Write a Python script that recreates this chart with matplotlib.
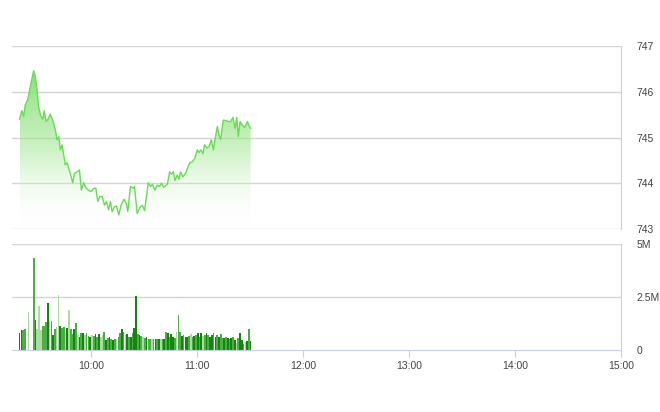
import numpy as np
import matplotlib.pyplot as plt
from matplotlib.colors import LinearSegmentedColormap

# minutes after 9:00
price_min = [19.3, 20.6, 21.6, 22.5, 23.9, 25.0, 26.3, 27.3, 28.2, 29.2, 30.1, 31.1, 32.4, 33.3,
             34.3, 35.4, 36.7, 38.1, 39.6, 40.5, 41.5, 42.4, 43.4, 44.3, 45.2, 46.2, 47.1, 48.5,
             49.4, 50.4, 51.9, 53.2, 54.3, 55.6, 57.0, 58.5, 59.8, 61.3, 62.5, 63.6, 64.7, 66.1,
             67.4, 68.5, 69.7, 70.8, 71.7, 73.1, 74.2, 75.5, 76.8, 78.4, 79.7, 80.6, 82.1, 83.5,
             84.4, 85.9, 87.4, 88.8, 90.1, 92.2, 93.5, 94.6, 95.9, 97.3, 98.6, 99.7, 101.0, 103.0,
             104.3, 105.4, 106.4, 107.3, 108.6, 109.6, 110.5, 111.8, 113.4, 114.7, 115.8, 117.1,
             118.5, 120.0, 120.9, 121.9, 123.2, 124.1, 125.3, 126.6, 127.9, 129.1, 130.0, 131.3,
             132.3, 133.2, 134.7, 136.1, 137.6, 138.9, 140.2, 141.4, 142.3, 143.2, 144.2, 145.5,
             146.8, 148.4, 149.3, 150.2]
price = [745.40, 745.59, 745.46, 745.71, 745.83, 746.04, 746.29, 746.46, 746.33, 746.04, 745.67,
         745.49, 745.40, 745.59, 745.35, 745.40, 745.51, 745.38, 745.16, 744.95, 745.02, 744.73,
         744.84, 744.62, 744.40, 744.45, 744.33, 744.14, 744.01, 744.22, 744.25, 744.29, 743.85,
         744.01, 743.89, 743.84, 743.82, 743.89, 743.89, 743.60, 743.71, 743.71, 743.52, 743.60,
         743.42, 743.60, 743.38, 743.49, 743.50, 743.31, 743.52, 743.65, 743.56, 743.38, 743.93,
         743.89, 743.93, 743.34, 743.47, 743.52, 743.40, 744.01, 743.93, 743.98, 743.85, 743.96,
         743.93, 744.00, 743.91, 743.98, 744.25, 744.20, 744.25, 744.06, 744.18, 744.09, 744.25,
         744.14, 744.22, 744.36, 744.45, 744.47, 744.54, 744.73, 744.67, 744.73, 744.65, 744.84,
         744.77, 744.80, 744.95, 744.73, 744.95, 745.24, 745.05, 744.96, 745.38, 745.37, 745.35,
         745.35, 745.44, 745.20, 745.44, 745.02, 745.35, 745.27, 745.22, 745.35, 745.25, 745.20]

vol_start = 19.3  # first volume bar, minutes after 9:00
volume = [0.79, 0.92, 0.95, 0.98, 0, 1.79, 0, 0, 4.35, 1.42, 0.98, 2.09, 0.92, 1.14, 1.11, 1.30,
          2.21, 1.34, 1.39, 0.71, 0.98, 1.08, 2.61, 1.14, 1.03, 1.08, 0.79, 1.03, 1.87, 0.98, 0.76,
          0.98, 1.27, 0.71, 0.63, 0.82, 0.82, 0.71, 0.82, 0.66, 0.63, 0.71, 0.66, 0.76, 0.60, 0.76,
          0.60, 0.71, 0.87, 0.47, 0.55, 0.63, 0.51, 0.47, 0.54, 0.52, 0.60, 0.82, 0.98, 0.87, 0.71,
          0.76, 0.63, 0.60, 0.79, 1.03, 2.56, 0.76, 0.71, 0.66, 0.63, 0.55, 0.60, 0.52, 0.54, 0.51,
          0.52, 0.51, 0.54, 0.51, 0.54, 0.51, 0.54, 0.87, 0.79, 0.63, 0.76, 0.63, 0.55, 0.85, 1.66,
          0.85, 0.66, 0.71, 0.63, 0.63, 0.66, 0.76, 0.63, 0.66, 0.73, 0.79, 0.63, 0.82, 0.66, 0.71,
          0.79, 0.71, 0.60, 0.71, 0.82, 0.63, 0.71, 0.63, 0.76, 0.55, 0.55, 0.60, 0.55, 0.54, 0.55,
          0.60, 0.47, 0.32, 0.55, 0.79, 0.47, 0.28, 0.40, 0.44, 0.98, 0.44]
# bar shade: d = dark, m = medium, l = light
vol_kind = ("ddmmdlddmdlllmmmdlmdmlldmmldlmmdmldmdlmmdlmdmdllmdmdmdmlmmdmldmdmdd"
            "mdmlmdmmlmdmdlmdmdmddmlmmdmddmlmdmdmdlmdmddmdmdmmdmdmdmdlmddmldmdl")

x_ticks = [60, 120, 180, 240, 300, 360]
x_labels = ["10:00", "11:00", "12:00", "13:00", "14:00", "15:00"]
price_ticks = [743, 744, 745, 746, 747]
vol_ticks = [0, 2.5, 5]
vol_labels = ["0", "2.5M", "5M"]

plt.rcParams['font.family'] = ['Liberation Sans', 'DejaVu Sans']

fig = plt.figure(figsize=(6.6, 4.12), dpi=100)
ax1 = fig.add_axes([12/660, 1 - 229/412, 609/660, 183/412])
ax2 = fig.add_axes([12/660, 1 - 350/412, 609/660, 106/412])

grid_c = '#d4d4d4'
edge_c = '#c4d0e4'
txt_c = '#444444'

# price panel
x = np.array(price_min)
y = np.array(price)
ax1.plot(x, y, color='#66dd55', lw=1.0, zorder=3)
poly = ax1.fill_between(x, y, 743, color='none')
cmap = LinearSegmentedColormap.from_list('g', [(1, 1, 1, 0), (0.62, 0.9, 0.56, 0.5),
                                               (0.55, 0.88, 0.48, 1.0)])
grad = np.linspace(0, 1, 256).reshape(-1, 1)
im = ax1.imshow(grad, cmap=cmap, origin='lower', aspect='auto',
                extent=[x.min(), x.max(), 743, 746.4], zorder=2)
im.set_clip_path(poly.get_paths()[0], transform=ax1.transData)

ax1.set_xlim(15, 360)
ax1.set_ylim(743, 747)
ax1.set_yticks(price_ticks)
ax1.set_xticks([])
for v in price_ticks:
    ax1.axhline(v, color=grid_c, lw=1, zorder=1)

# volume panel
vol_x = vol_start + np.arange(len(volume)) * (150.2 - vol_start) / (len(volume) - 1)
shade = {'d': '#13860f', 'm': '#4cad44', 'l': '#a8dca0'}
ax2.bar(vol_x, volume, width=0.95, linewidth=0,
        color=[shade[k] for k in vol_kind[:len(volume)]], zorder=2)
ax2.set_xlim(15, 360)
ax2.set_ylim(0, 5)
ax2.set_yticks(vol_ticks)
ax2.set_yticklabels(vol_labels)
for v in vol_ticks[1:]:
    ax2.axhline(v, color=grid_c, lw=1, zorder=1)
ax2.set_xticks(x_ticks)
ax2.set_xticklabels(x_labels)

for ax in (ax1, ax2):
    for s in ('top', 'left'):
        ax.spines[s].set_visible(False)
    ax.spines['right'].set_color(edge_c)
    ax.yaxis.tick_right()
    ax.tick_params(axis='y', length=0, pad=11, labelsize=7.5, labelcolor=txt_c)
    ax.set_facecolor('none')
ax1.spines['bottom'].set_visible(False)
ax2.spines['bottom'].set_color(edge_c)
ax2.tick_params(axis='x', length=5, color=edge_c, labelsize=7.5, labelcolor=txt_c, pad=3)
for lbl in ax2.get_yticklabels() + ax1.get_yticklabels():
    lbl.set_horizontalalignment('left')

fig.savefig('out.png', dpi=100)
